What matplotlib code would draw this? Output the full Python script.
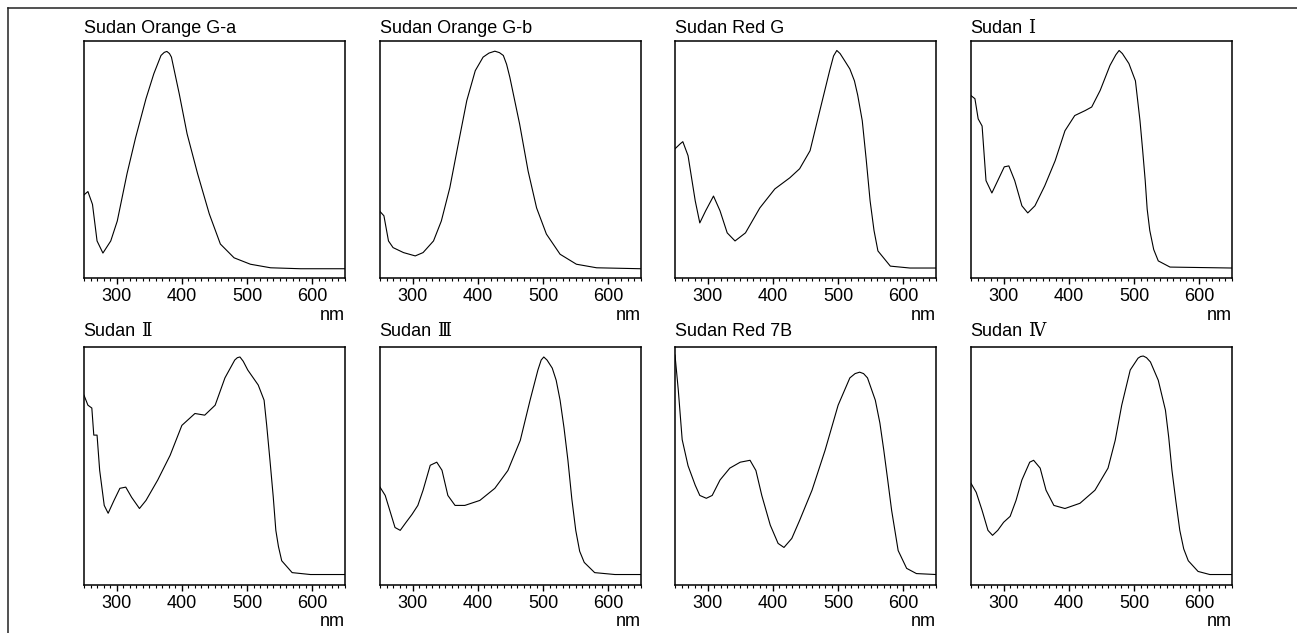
import matplotlib
matplotlib.use("Agg")
import matplotlib.pyplot as plt
from matplotlib.ticker import MultipleLocator
from matplotlib.lines import Line2D
from matplotlib.transforms import offset_copy

plt.rcParams['font.family'] = ['Liberation Sans', 'DejaVu Sans']

titles = ["Sudan Orange G-a", "Sudan Orange G-b", "Sudan Red G", "Sudan",
          "Sudan", "Sudan", "Sudan Red 7B", "Sudan"]
numerals = ["", "", "", "\u2160", "\u2161", "\u2162", "", "\u2163"]

wl_orange_a = [250, 256, 263, 270, 279, 291, 301, 316, 329, 345, 357, 368, 373, 377, 381, 384, 396, 408, 424, 442, 459, 480, 505, 536, 582, 650]
ab_orange_a = [0.35, 0.364, 0.31, 0.156, 0.105, 0.156, 0.24, 0.44, 0.59, 0.755, 0.86, 0.937, 0.95, 0.954, 0.945, 0.93, 0.775, 0.607, 0.44, 0.27, 0.143, 0.085, 0.058, 0.043, 0.039, 0.039]

wl_orange_b = [250, 256, 263, 270, 286, 304, 316, 332, 344, 357, 370, 383, 396, 408, 417, 426, 433, 439, 444, 449, 464, 477, 490, 505, 526, 551, 582, 650]
ab_orange_b = [0.28, 0.262, 0.156, 0.128, 0.107, 0.093, 0.107, 0.156, 0.24, 0.38, 0.565, 0.747, 0.873, 0.93, 0.947, 0.955, 0.949, 0.937, 0.90, 0.845, 0.648, 0.45, 0.295, 0.185, 0.10, 0.058, 0.043, 0.039]

wl_red_g = [250, 258, 262, 270, 281, 288, 297, 309, 319, 330, 342, 358, 380, 403, 426, 441, 457, 472, 487, 493, 498, 503, 510, 518, 525, 530, 537, 543, 549, 555, 561, 580, 610, 650]
ab_red_g = [0.544, 0.565, 0.574, 0.515, 0.325, 0.232, 0.283, 0.345, 0.283, 0.19, 0.156, 0.19, 0.295, 0.375, 0.422, 0.46, 0.536, 0.705, 0.873, 0.935, 0.958, 0.945, 0.915, 0.88, 0.83, 0.77, 0.662, 0.50, 0.325, 0.20, 0.114, 0.05, 0.042, 0.042]

wl_sudan1 = [250, 256, 261, 267, 273, 282, 291, 301, 308, 317, 328, 337, 348, 363, 379, 394, 409, 425, 435, 448, 463, 472, 477, 482, 492, 502, 509, 513, 517, 520, 524, 530, 537, 555, 650]
ab_sudan1 = [0.768, 0.755, 0.67, 0.64, 0.41, 0.358, 0.41, 0.468, 0.472, 0.41, 0.304, 0.274, 0.304, 0.388, 0.494, 0.62, 0.684, 0.705, 0.72, 0.79, 0.895, 0.94, 0.958, 0.945, 0.903, 0.83, 0.662, 0.54, 0.41, 0.29, 0.2, 0.12, 0.072, 0.046, 0.042]

wl_sudan2 = [250, 256, 262, 265, 270, 274, 281, 287, 296, 305, 314, 323, 335, 345, 363, 382, 400, 420, 435, 451, 466, 481, 485, 489, 494, 501, 517, 526, 530, 535, 540, 544, 548, 553, 569, 597, 650]
ab_sudan2 = [0.797, 0.755, 0.743, 0.629, 0.629, 0.481, 0.333, 0.30, 0.354, 0.405, 0.41, 0.367, 0.32, 0.354, 0.44, 0.544, 0.67, 0.72, 0.713, 0.755, 0.87, 0.945, 0.955, 0.958, 0.94, 0.903, 0.84, 0.776, 0.67, 0.523, 0.37, 0.228, 0.16, 0.10, 0.05, 0.042, 0.042]

wl_sudan3 = [250, 258, 265, 273, 281, 290, 299, 308, 316, 327, 337, 345, 354, 365, 380, 403, 426, 446, 465, 480, 492, 497, 501, 506, 514, 520, 526, 532, 538, 544, 550, 556, 563, 579, 610, 650]
ab_sudan3 = [0.41, 0.375, 0.312, 0.24, 0.228, 0.262, 0.295, 0.333, 0.397, 0.502, 0.515, 0.481, 0.375, 0.333, 0.333, 0.354, 0.405, 0.48, 0.607, 0.776, 0.903, 0.945, 0.958, 0.945, 0.911, 0.86, 0.776, 0.66, 0.523, 0.36, 0.228, 0.14, 0.093, 0.05, 0.042, 0.042]

wl_red_7b = [250, 255, 261, 270, 281, 288, 298, 307, 319, 334, 350, 365, 374, 383, 396, 408, 417, 429, 441, 460, 480, 500, 518, 526, 533, 539, 545, 557, 564, 570, 576, 582, 592, 605, 620, 650]
ab_red_7b = [0.966, 0.82, 0.61, 0.50, 0.418, 0.375, 0.363, 0.375, 0.44, 0.49, 0.515, 0.523, 0.48, 0.375, 0.25, 0.173, 0.156, 0.194, 0.27, 0.397, 0.565, 0.755, 0.87, 0.888, 0.894, 0.888, 0.87, 0.776, 0.68, 0.565, 0.44, 0.312, 0.143, 0.068, 0.046, 0.042]

wl_sudan4 = [250, 258, 267, 276, 283, 291, 300, 310, 319, 328, 340, 346, 356, 365, 377, 394, 417, 440, 460, 471, 481, 494, 506, 510, 514, 519, 525, 537, 548, 553, 558, 564, 570, 576, 583, 598, 616, 650]
ab_sudan4 = [0.426, 0.388, 0.312, 0.228, 0.207, 0.228, 0.262, 0.287, 0.354, 0.44, 0.515, 0.523, 0.49, 0.397, 0.333, 0.32, 0.342, 0.397, 0.49, 0.607, 0.755, 0.903, 0.953, 0.96, 0.962, 0.955, 0.937, 0.86, 0.734, 0.62, 0.48, 0.35, 0.228, 0.15, 0.10, 0.055, 0.042, 0.042]

wavelengths = [wl_orange_a, wl_orange_b, wl_red_g, wl_sudan1, wl_sudan2, wl_sudan3, wl_red_7b, wl_sudan4]
absorbances = [ab_orange_a, ab_orange_b, ab_red_g, ab_sudan1, ab_sudan2, ab_sudan3, ab_red_7b, ab_sudan4]
xticks = [300, 400, 500, 600]

W, H = 1297, 633
fig = plt.figure(figsize=(W / 100, H / 100), dpi=100)

lefts = [84, 380, 675, 971]
tops = [40.5, 347]
title_gap = [7.5, 11]
aw, ah = 261, 237.5

for i in range(8):
    r, c = divmod(i, 4)
    x0 = lefts[c]
    y0 = tops[r]
    ax = fig.add_axes([x0 / W, 1 - (y0 + ah) / H, aw / W, ah / H])
    ax.plot(wavelengths[i], absorbances[i], color='black', lw=0.8)
    ax.set_xlim(250, 650)
    ax.set_ylim(0, 1)
    ax.set_yticks([])
    ax.set_xticks(xticks)
    ax.xaxis.set_minor_locator(MultipleLocator(10))
    ax.tick_params(axis='x', which='major', direction='out', length=4.5, width=1.0,
                   labelsize=13, pad=3, color='black')
    ax.tick_params(axis='x', which='minor', direction='out', length=2.2, width=0.8, color='black')
    for s in ax.spines.values():
        s.set_linewidth(1.1)
        s.set_color('black')
    tr = offset_copy(ax.transAxes, fig=fig, x=-0.5, y=title_gap[r], units='dots')
    t = ax.text(0, 1, titles[i], transform=tr, ha='left', va='baseline', fontsize=13)
    if numerals[i]:
        ax.annotate(numerals[i], xy=(1, 1), xycoords=(t, 'axes fraction'),
                    xytext=(5, title_gap[r]), textcoords='offset pixels',
                    ha='left', va='baseline', fontsize=13,
                    family=['DejaVu Serif', 'Noto Sans CJK JP'])
    ax.annotate('nm', xy=(1, 0), xycoords='axes fraction', xytext=(0, -42),
                textcoords='offset pixels', ha='right', va='baseline', fontsize=13)

# outer frame (left and top lines)
fig.add_artist(Line2D([8 / W, 8 / W], [0, 1 - 8 / H], transform=fig.transFigure, color='#222222', lw=1.1))
fig.add_artist(Line2D([8 / W, 1], [1 - 8 / H, 1 - 8 / H], transform=fig.transFigure, color='#222222', lw=1.1))

fig.savefig('out.png', dpi=100)
